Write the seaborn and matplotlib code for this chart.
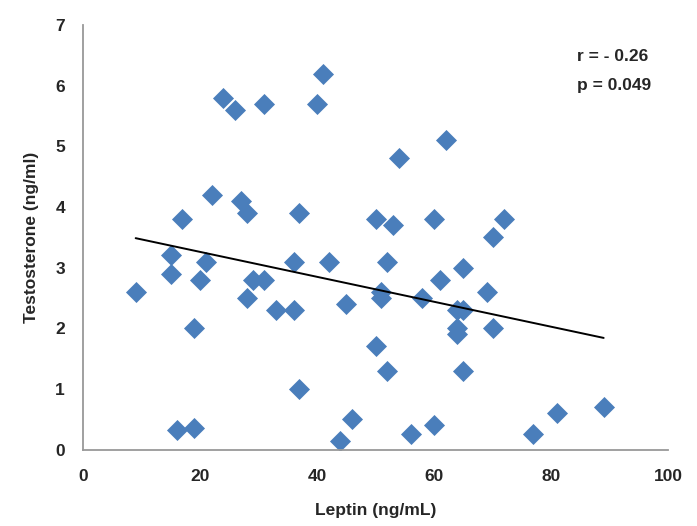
import numpy as np
import pandas as pd
import matplotlib
matplotlib.use("Agg")
import matplotlib.pyplot as plt
import seaborn as sns

# values
leptin = [41, 24, 26, 31, 40, 22, 27, 28, 17, 37, 50, 15, 21, 36, 42,
          62, 54, 53, 60, 72, 70, 52, 65, 15, 9, 20, 29, 31, 28, 33,
          36, 45, 19, 37, 46, 44, 16, 19, 50, 61, 69, 51, 51, 58, 64,
          65, 64, 64, 70, 52, 65, 56, 60, 77, 81, 89]
testosterone = [6.2, 5.8, 5.6, 5.7, 5.7, 4.2, 4.1, 3.9, 3.8, 3.9, 3.8, 3.2, 3.1, 3.1, 3.1,
                5.1, 4.8, 3.7, 3.8, 3.8, 3.5, 3.1, 3.0, 2.9, 2.6, 2.8, 2.8, 2.8, 2.5, 2.3,
                2.3, 2.4, 2.0, 1.0, 0.5, 0.14, 0.32, 0.36, 1.7, 2.8, 2.6, 2.6, 2.5, 2.5, 2.3,
                2.3, 2.0, 1.9, 2.0, 1.3, 1.3, 0.25, 0.4, 0.26, 0.6, 0.7]
stats_text = ["r = - 0.26", "p = 0.049"]

df = pd.DataFrame({"Leptin": leptin, "Testosterone": testosterone})

sns.set_style("white")
plt.rcParams["font.family"] = ["Liberation Sans", "DejaVu Sans"]

fig = plt.figure(figsize=(6.97, 5.26), dpi=100)
ax = fig.add_axes([0.1191, 0.1454, 0.8393, 0.8071])

sns.scatterplot(data=df, x="Leptin", y="Testosterone", marker="D", s=115,
                color="#4a7ebb", linewidth=0, ax=ax, zorder=2)
sns.regplot(data=df, x="Leptin", y="Testosterone", scatter=False, ci=None,
            truncate=True, color="black", line_kws={"linewidth": 1.4, "zorder": 3}, ax=ax)

ax.set_xlim(0, 100)
ax.set_ylim(0, 7)
ax.set_xticks(range(0, 101, 20))
ax.set_yticks(range(0, 8))
ax.tick_params(axis="x", length=0, labelsize=12.5, pad=14)
ax.tick_params(axis="y", length=0, labelsize=12.5, pad=13)
for lab in ax.get_xticklabels() + ax.get_yticklabels():
    lab.set_fontweight("bold")

for side in ["top", "right"]:
    ax.spines[side].set_visible(False)
for side in ["left", "bottom"]:
    ax.spines[side].set_color("#999999")
    ax.spines[side].set_linewidth(1.3)

ax.set_xlabel("Leptin (ng/mL)", fontsize=12.5, fontweight="bold", labelpad=14)
ax.set_ylabel("Testosterone (ng/ml)", fontsize=12.5, fontweight="bold", labelpad=12)

ax.text(84.4, 6.48, stats_text[0], fontsize=12.5, fontweight="bold", va="center", ha="left")
ax.text(84.4, 6.01, stats_text[1], fontsize=12.5, fontweight="bold", va="center", ha="left")

fig.savefig("out.png", dpi=100)
